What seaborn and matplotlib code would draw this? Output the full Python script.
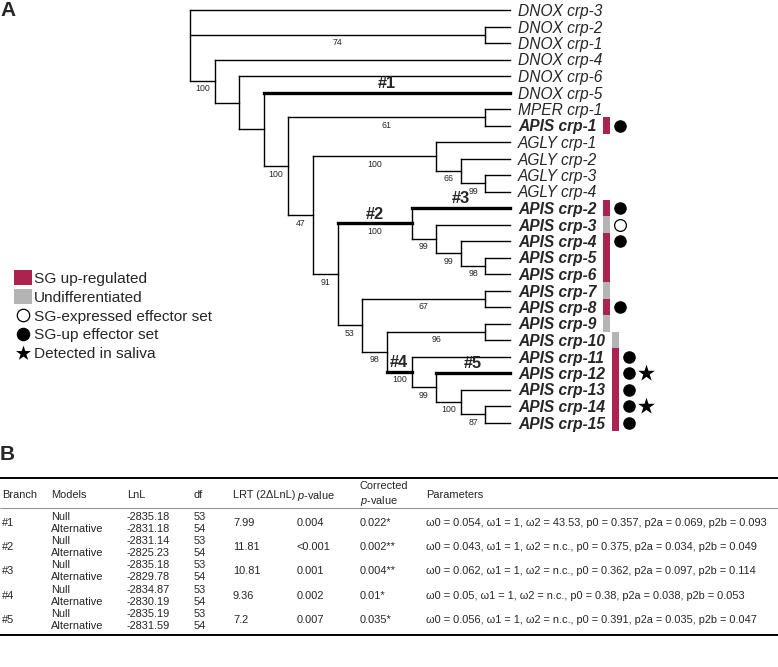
import matplotlib
matplotlib.use("Agg")
import matplotlib.pyplot as plt
from matplotlib.patches import Rectangle
import numpy as np
import pandas as pd
import seaborn as sns

# ---------------------------------------------------------------- data
agly_clade = "(AGLY crp-1,(AGLY crp-2,(AGLY crp-3,AGLY crp-4)99)66)100"
apis_2_6_clade = "(APIS crp-2,(APIS crp-3,(APIS crp-4,(APIS crp-5,APIS crp-6)98)99)99)100"
apis_11_15_clade = "(APIS crp-11,(APIS crp-12,(APIS crp-13,(APIS crp-14,APIS crp-15)87)100)99)100"
tree_newick = ("(DNOX crp-3,(DNOX crp-2,DNOX crp-1)74,(DNOX crp-4,(DNOX crp-6,(DNOX crp-5,"
               "((MPER crp-1,APIS crp-1)61,(" + agly_clade + ",(" + apis_2_6_clade +
               ",((APIS crp-7,APIS crp-8)67,((APIS crp-9,APIS crp-10)96," + apis_11_15_clade +
               ")98)53)91)47)100)))100);")

# foreground branches: label -> tips whose MRCA ends the branch
foreground_labels = ["#1", "#2", "#3", "#4", "#5"]
foreground_tips = [["DNOX crp-5"], ["APIS crp-2", "APIS crp-6"], ["APIS crp-2"],
                   ["APIS crp-11", "APIS crp-15"], ["APIS crp-12"]]

bold_prefix = "APIS"

expr_tips = ["APIS crp-1", "APIS crp-2", "APIS crp-3", "APIS crp-4", "APIS crp-5",
             "APIS crp-6", "APIS crp-7", "APIS crp-8", "APIS crp-9", "APIS crp-10",
             "APIS crp-11", "APIS crp-12", "APIS crp-13", "APIS crp-14", "APIS crp-15"]
expr_status = ["up", "up", "undiff", "up", "up", "up", "undiff", "up", "undiff", "undiff",
               "up", "up", "up", "up", "up"]
effector_tips = ["APIS crp-1", "APIS crp-2", "APIS crp-3", "APIS crp-4", "APIS crp-8",
                 "APIS crp-11", "APIS crp-12", "APIS crp-13", "APIS crp-14", "APIS crp-15"]
effector_set = ["up", "up", "expressed", "up", "up", "up", "up", "up", "up", "up"]
saliva_tips = ["APIS crp-12", "APIS crp-14"]

legend_texts = ["SG up-regulated", "Undifferentiated", "SG-expressed effector set",
                "SG-up effector set", "Detected in saliva"]

# table B
tbl_branch = ["#1", "#2", "#3", "#4", "#5"]
tbl_models = ["Null", "Alternative"]
lnl_null = [-2835.18, -2831.14, -2835.18, -2834.87, -2835.19]
lnl_alt = [-2831.18, -2825.23, -2829.78, -2830.19, -2831.59]
df_null = [53, 53, 53, 53, 53]
df_alt = [54, 54, 54, 54, 54]
lrt = [7.99, 11.81, 10.81, 9.36, 7.2]
p_values = ["0.004", "<0.001", "0.001", "0.002", "0.007"]
p_corrected = ["0.022*", "0.002**", "0.004**", "0.01*", "0.035*"]
omega0 = ["0.054", "0.043", "0.062", "0.05", "0.056"]
omega1 = ["1", "1", "1", "1", "1"]
omega2 = ["43.53", "n.c.", "n.c.", "n.c.", "n.c."]
p0 = ["0.357", "0.375", "0.362", "0.38", "0.391"]
p2a = ["0.069", "0.034", "0.097", "0.038", "0.035"]
p2b = ["0.093", "0.049", "0.114", "0.053", "0.047"]
header_texts = ["Branch", "Models", "LnL", "df", "LRT (2\u0394LnL)", "$\\mathit{p}$-value",
                "Parameters"]

# ---------------------------------------------------------------- style
sns.set_theme(style="white")
plt.rcParams["font.family"] = ["Liberation Sans", "DejaVu Sans"]
plt.rcParams["mathtext.fontset"] = "custom"
plt.rcParams["mathtext.rm"] = "Liberation Sans"
plt.rcParams["mathtext.it"] = "Liberation Sans:italic"
plt.rcParams["mathtext.bf"] = "Liberation Sans:bold"

RED = "#AD2350"
GREY = "#B4B4B4"
status_color = {"up": RED, "undiff": GREY}

W, H = 778, 667
fig = plt.figure(figsize=(W / 100, H / 100), dpi=100)
ax = fig.add_axes([0, 0, 1, 1])

# ---------------------------------------------------------------- tree parsing / layout
def parse_newick(text):
    text = text.strip().rstrip(";")
    pos = 0

    def node():
        nonlocal pos
        n = {"name": None, "support": None, "children": []}
        if text[pos] == "(":
            pos += 1
            while True:
                n["children"].append(node())
                ch = text[pos]
                pos += 1
                if ch == ")":
                    break
            start = pos
            while pos < len(text) and text[pos] not in ",)":
                pos += 1
            n["support"] = text[start:pos].strip() or None
        else:
            start = pos
            while pos < len(text) and text[pos] not in ",)":
                pos += 1
            n["name"] = text[start:pos].strip()
        return n

    return node()


root = parse_newick(tree_newick)
tips, nodes = [], []


def annotate(n, parent=None):
    n["parent"] = parent
    nodes.append(n)
    if not n["children"]:
        n["row"] = len(tips)
        tips.append(n)
        n["height"] = 0
        n["tipset"] = {n["name"]}
    else:
        for c in n["children"]:
            annotate(c, n)
        n["row"] = (n["children"][0]["row"] + n["children"][-1]["row"]) / 2
        n["height"] = 1 + max(c["height"] for c in n["children"])
        n["tipset"] = set().union(*(c["tipset"] for c in n["children"]))


annotate(root)
max_h = root["height"]

X_ROOT, X_TIP = 190.0, 510.0
Y_TOP, ROW = 10.0, 16.5


def px(n):
    return X_ROOT + (max_h - n["height"]) * (X_TIP - X_ROOT) / max_h


def py(n):
    return Y_TOP + n["row"] * ROW


def mrca(names):
    cands = [n for n in nodes if set(names) <= n["tipset"]]
    return min(cands, key=lambda n: len(n["tipset"]))


fg_nodes = {id(mrca(t)): lab for lab, t in zip(foreground_labels, foreground_tips)}

rows = []
seg = 0
for n in nodes:
    if n["parent"] is not None:
        w = "thick" if id(n) in fg_nodes else "thin"
        rows += [(seg, px(n["parent"]), py(n), w), (seg, px(n), py(n), w)]
        seg += 1
    if n["children"]:
        rows += [(seg, px(n), py(n["children"][0]), "thin"),
                 (seg, px(n), py(n["children"][-1]), "thin")]
        seg += 1
segs = pd.DataFrame(rows, columns=["seg", "x", "y", "w"])

sns.lineplot(data=segs[segs.w == "thin"], x="x", y="y", units="seg", estimator=None,
             sort=False, color="black", linewidth=1.0, solid_capstyle="projecting",
             legend=False, ax=ax)
sns.lineplot(data=segs[segs.w == "thick"], x="x", y="y", units="seg", estimator=None,
             sort=False, color="black", linewidth=2.4, solid_capstyle="projecting",
             legend=False, ax=ax)

# support values and foreground labels
for n in nodes:
    if n["parent"] is None:
        continue
    xm = (px(n["parent"]) + px(n)) / 2
    if n["support"]:
        ax.text(xm, py(n) + 6.8, n["support"], fontsize=6.3, ha="center",
                va="center_baseline")
    if id(n) in fg_nodes:
        ax.text(xm, py(n) - 1.8, fg_nodes[id(n)], fontsize=11.8, fontweight="bold",
                ha="center", va="bottom")

# tip labels
tip_text = {}
for t in tips:
    bold = t["name"].startswith(bold_prefix)
    tip_text[t["name"]] = ax.text(X_TIP + 8, py(t), t["name"], fontsize=11.2,
                                  fontstyle="italic",
                                  fontweight="bold" if bold else "normal",
                                  ha="left", va="center_baseline")

ax.set_xlim(0, W)
ax.set_ylim(H, 0)
ax.axis("off")

# bar / marker columns from label extents
fig.canvas.draw()
renderer = fig.canvas.get_renderer()
inv = ax.transData.inverted()
right = {}
for name, t in tip_text.items():
    bb = t.get_window_extent(renderer)
    right[name] = inv.transform((bb.x1, bb.y0))[0]
tip_row = {t["name"]: t for t in tips}
group_right = {}
for name in expr_tips:
    k = len(name)
    group_right[k] = max(group_right.get(k, 0), right[name])

BAR_GAP, BAR_W = 7, 7
for name, st in zip(expr_tips, expr_status):
    x0 = group_right[len(name)] + BAR_GAP
    ax.bar(x0, ROW, bottom=py(tip_row[name]) - ROW / 2, width=BAR_W, align="edge",
           color=status_color[st], linewidth=0)

eff = pd.DataFrame({"tip": effector_tips, "set": effector_set})
eff["x"] = [group_right[len(n)] + BAR_GAP + BAR_W + 10 for n in eff.tip]
eff["y"] = [py(tip_row[n]) for n in eff.tip]
sns.scatterplot(data=eff[eff.set == "up"], x="x", y="y", color="black", s=82,
                linewidth=0, legend=False, ax=ax)
sns.scatterplot(data=eff[eff.set == "expressed"], x="x", y="y", color="white",
                edgecolor="black", linewidth=0.9, s=72, legend=False, ax=ax)
sal_x = [group_right[len(n)] + BAR_GAP + BAR_W + 27 for n in saliva_tips]
sal_y = [py(tip_row[n]) for n in saliva_tips]
sns.scatterplot(x=sal_x, y=sal_y, marker="*", color="black", s=160, linewidth=0,
                legend=False, ax=ax)

# legend
LX, LY, LSTEP = 14, 277, 19
for i, txt in enumerate(legend_texts):
    yy = LY + i * LSTEP
    if i < 2:
        ax.add_patch(Rectangle((LX, yy - 7.5), 18, 15.5,
                               color=[RED, GREY][i], linewidth=0))
    elif i == 2:
        ax.scatter([LX + 9], [yy], s=80, facecolor="white", edgecolor="black",
                   linewidth=0.9)
    elif i == 3:
        ax.scatter([LX + 9], [yy], s=95, color="black", linewidth=0)
    else:
        ax.scatter([LX + 9], [yy], s=130, marker="*", color="black", linewidth=0)
    ax.text(LX + 20, yy, txt, fontsize=11.1, ha="left", va="center_baseline")

# panel labels
ax.text(0, 1, "A", fontsize=15, fontweight="bold", ha="left", va="top")
ax.text(0, 445, "B", fontsize=15, fontweight="bold", ha="left", va="top")

# ---------------------------------------------------------------- table
FS = 7.9
cols = [2, 51, 127, 194, 233, 297, 426]
CORR_X = 360
HEAD_Y = 494
for x, txt in zip(cols, header_texts):
    ax.text(x, HEAD_Y, txt, fontsize=FS, ha="left", va="center_baseline")
ax.text(CORR_X, HEAD_Y - 9, "Corrected", fontsize=FS, ha="left", va="center_baseline")
ax.text(CORR_X, HEAD_Y + 5, "$\\mathit{p}$-value", fontsize=FS, ha="left",
        va="center_baseline")

ax.plot([0, W], [478, 478], color="black", linewidth=1.4, solid_capstyle="butt")
ax.plot([0, W], [508, 508], color="#8a8a8a", linewidth=0.7, solid_capstyle="butt")
ax.plot([0, W], [635, 635], color="black", linewidth=1.4, solid_capstyle="butt")

Y0, PAIR, SUB = 516, 24.2, 12.1
for i in range(len(tbl_branch)):
    yn = Y0 + i * PAIR
    ya = yn + SUB
    yc = (yn + ya) / 2
    ax.text(cols[0], yc, tbl_branch[i], fontsize=FS, va="center_baseline")
    ax.text(cols[1], yn, tbl_models[0], fontsize=FS, va="center_baseline")
    ax.text(cols[1], ya, tbl_models[1], fontsize=FS, va="center_baseline")
    ax.text(cols[2], yn, f"{lnl_null[i]:.2f}", fontsize=FS, va="center_baseline")
    ax.text(cols[2], ya, f"{lnl_alt[i]:.2f}", fontsize=FS, va="center_baseline")
    ax.text(cols[3], yn, str(df_null[i]), fontsize=FS, va="center_baseline")
    ax.text(cols[3], ya, str(df_alt[i]), fontsize=FS, va="center_baseline")
    ax.text(cols[4], yc, f"{lrt[i]:g}", fontsize=FS, va="center_baseline")
    ax.text(cols[5], yc, p_values[i], fontsize=FS, va="center_baseline")
    ax.text(CORR_X, yc, p_corrected[i], fontsize=FS, va="center_baseline")
    par = (f"\u03c90 = {omega0[i]}, \u03c91 = {omega1[i]}, \u03c92 = {omega2[i]}, "
           f"p0 = {p0[i]}, p2a = {p2a[i]}, p2b = {p2b[i]}")
    ax.text(cols[6], yc, par, fontsize=FS, va="center_baseline")

ax.set_xlim(0, W)
ax.set_ylim(H, 0)
ax.axis("off")
fig.savefig("out.png", dpi=100)
